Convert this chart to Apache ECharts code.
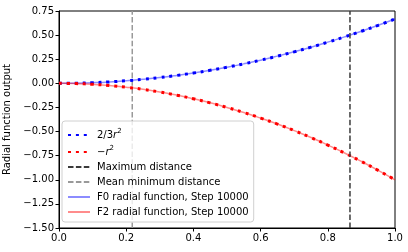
<!DOCTYPE html>
<html><head><meta charset="utf-8">
<script src="https://cdn.jsdelivr.net/npm/echarts@6/dist/echarts.min.js"></script>
<style>html,body{margin:0;padding:0;background:#fff}#c{width:408px;height:252px}</style>
</head><body><div id="c"></div>
<script>
// radius samples
const radii = [0,0.05,0.1,0.15,0.2,0.25,0.3,0.35,0.4,0.45,0.5,0.55,0.6,0.65,0.7,0.75,0.8,0.85,0.9,0.95,1.0];
// reference curve 2/3 r^2
const refF0 = [0,0.0017,0.0067,0.015,0.0267,0.0417,0.06,0.0817,0.1067,0.135,0.1667,0.2017,0.24,0.2817,0.3267,0.375,0.4267,0.4817,0.54,0.6017,0.6667];
// reference curve -r^2
const refF2 = [0,-0.0025,-0.01,-0.0225,-0.04,-0.0625,-0.09,-0.1225,-0.16,-0.2025,-0.25,-0.3025,-0.36,-0.4225,-0.49,-0.5625,-0.64,-0.7225,-0.81,-0.9025,-1.0];
// learned radial functions at step 10000
const learnedF0 = [0,0.002,0.007,0.015,0.027,0.042,0.06,0.082,0.107,0.135,0.167,0.202,0.24,0.282,0.327,0.375,0.427,0.482,0.54,0.602,0.667];
const learnedF2 = [0,-0.003,-0.01,-0.022,-0.04,-0.062,-0.09,-0.122,-0.16,-0.202,-0.25,-0.302,-0.36,-0.422,-0.49,-0.562,-0.64,-0.722,-0.81,-0.902,-1.0];
const maxDistance = 0.866;
const meanMinDistance = 0.218;
const yRange = [-1.5, 0.75];
const names = ['2/3r^2','-r^2','Maximum distance','Mean minimum distance','F0 radial function, Step 10000','F2 radial function, Step 10000'];

const pairs = (xs, ys) => xs.map((x, i) => [x, ys[i]]);
const font = 'DejaVu Sans';
const chart = echarts.init(document.getElementById('c'), null, {renderer: 'canvas'});
chart.setOption({
  animation: false,
  backgroundColor: '#fff',
  textStyle: {fontFamily: font},
  grid: {left: 59, right: 13, top: 11, bottom: 24, show: true, borderColor: '#000', borderWidth: 1,
         containLabel: false, outerBoundsMode: 'none'},
  xAxis: {
    type: 'value', min: 0, max: 1, interval: 0.2,
    axisLine: {show: true, onZero: false, lineStyle: {color: '#000', width: 1}},
    axisTick: {show: true, length: 3.5, lineStyle: {color: '#000'}},
    axisLabel: {color: '#000', fontSize: 10, fontFamily: font, margin: 5, formatter: v => v.toFixed(1)},
    splitLine: {show: false}
  },
  yAxis: {
    type: 'value', min: yRange[0], max: yRange[1], interval: 0.25,
    name: 'Radial function output', nameLocation: 'middle', nameGap: 38,
    nameTextStyle: {color: '#000', fontSize: 10, fontFamily: font},
    axisLine: {show: true, onZero: false, lineStyle: {color: '#000', width: 1}},
    axisTick: {show: true, length: 3.5, lineStyle: {color: '#000'}},
    axisLabel: {color: '#000', fontSize: 10, fontFamily: font, margin: 5,
      formatter: v => (v < 0 ? '\u2212' : '') + Math.abs(v).toFixed(2)},
    splitLine: {show: false}
  },
  legend: {
    left: 62, top: 121, orient: 'vertical',
    itemWidth: 22, itemHeight: 10, itemGap: 5,
    padding: [7, 5, 5, 5],
    borderColor: '#d0d0d0', borderWidth: 1, borderRadius: 3,
    backgroundColor: 'rgba(255,255,255,0.8)',
    itemStyle: {opacity: 0},
    data: names,
    formatter: function (n) {
      if (n === names[0]) return '{n|2/3}{i|r}{s|2}';
      if (n === names[1]) return '{n|\u2212}{i|r}{s|2}';
      return n;
    },
    textStyle: {
      color: '#000', fontSize: 10, fontFamily: font, padding: [0, 0, 0, 2],
      rich: {
        n: {fontSize: 10, fontFamily: font, color: '#000'},
        i: {fontSize: 10, fontFamily: font, fontStyle: 'italic', color: '#000'},
        s: {fontSize: 7, fontFamily: font, color: '#000', padding: [0, 0, 7, 0]}
      }
    }
  },
  series: [
    {name: names[4], type: 'line', data: pairs(radii, learnedF0), symbol: 'none', smooth: true, z: 2,
     lineStyle: {color: 'rgba(0,0,255,0.45)', width: 1.5}, itemStyle: {color: 'rgba(0,0,255,0.45)'}},
    {name: names[5], type: 'line', data: pairs(radii, learnedF2), symbol: 'none', smooth: true, z: 2,
     lineStyle: {color: 'rgba(255,0,0,0.45)', width: 1.5}, itemStyle: {color: 'rgba(255,0,0,0.45)'}},
    {name: names[0], type: 'line', data: pairs(radii, refF0), symbol: 'none', smooth: true, z: 3,
     lineStyle: {color: '#0000ff', width: 3, type: [3, 4.9], cap: 'butt'}, itemStyle: {color: '#0000ff'}},
    {name: names[1], type: 'line', data: pairs(radii, refF2), symbol: 'none', smooth: true, z: 3,
     lineStyle: {color: '#ff0000', width: 3, type: [3, 4.9], cap: 'butt'}, itemStyle: {color: '#ff0000'}},
    {name: names[2], type: 'line', data: [[maxDistance, yRange[0]], [maxDistance, yRange[1]]], symbol: 'none', z: 4,
     lineStyle: {color: '#3a3a3a', width: 1.5, type: [5.5, 2.4]}, itemStyle: {color: '#3a3a3a'}},
    {name: names[3], type: 'line', data: [[meanMinDistance, yRange[0]], [meanMinDistance, yRange[1]]], symbol: 'none', z: 1,
     lineStyle: {color: '#999999', width: 1.5, type: [5.5, 2.4]}, itemStyle: {color: '#999999'}}
  ]
});
</script></body></html>
